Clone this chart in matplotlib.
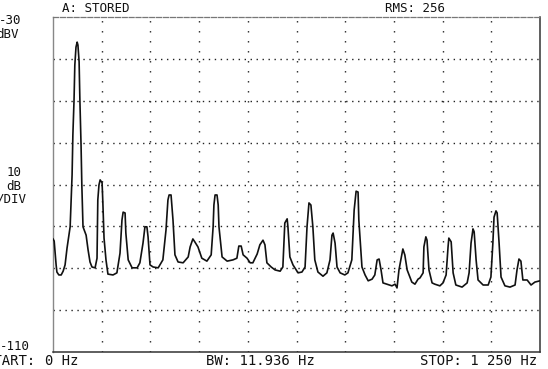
import numpy as np
import matplotlib
matplotlib.use("Agg")
import matplotlib.pyplot as plt

# stored spectrum trace, frequency in Hz and level in dBV
freq_hz = [0, 3, 8, 10, 15, 21, 26, 31, 36, 39,
           44, 46, 49, 51, 54, 56, 59, 62, 64, 67,
           69, 72, 74, 77, 85, 90, 95, 100, 108, 113,
           115, 118, 121, 126, 128, 131, 136, 141, 154, 164,
           172, 177, 180, 185, 187, 193, 203, 216, 223, 231,
           236, 241, 244, 249, 257, 270, 282, 290, 295, 298,
           303, 305, 308, 313, 321, 334, 347, 352, 359, 364,
           372, 382, 395, 406, 411, 413, 416, 421, 424, 426,
           434, 447, 462, 472, 477, 483, 488, 498, 506, 513,
           524, 531, 539, 544, 549, 560, 570, 583, 590, 595,
           601, 603, 608, 616, 629, 639, 647, 652, 657, 662,
           667, 672, 680, 693, 703, 711, 716, 719, 724, 729,
           737, 749, 757, 767, 773, 778, 783, 785, 793, 801,
           809, 819, 826, 832, 837, 842, 847, 857, 870, 878,
           883, 888, 896, 898, 903, 909, 921, 929, 937, 942,
           950, 952, 957, 960, 965, 973, 980, 993, 1001, 1009,
           1014, 1016, 1022, 1027, 1034, 1050, 1063, 1068, 1073, 1078,
           1081, 1086, 1091, 1104, 1117, 1124, 1129, 1132, 1137, 1140,
           1145, 1150, 1160, 1173, 1186, 1191, 1196, 1201, 1206, 1217,
           1227, 1237, 1250]
level_dbv = [-83.0, -83.5, -89.2, -90.9, -91.6, -91.6, -90.7, -89.2, -85.2, -83.3,
             -80.1, -74.9, -67.7, -58.2, -49.8, -41.5, -37.2, -36.0, -36.7, -40.7,
             -49.8, -60.6, -70.1, -80.1, -82.1, -85.6, -88.5, -89.7, -89.9, -87.6,
             -73.7, -70.1, -68.9, -69.6, -74.4, -82.8, -88.0, -91.4, -91.6, -91.1,
             -86.4, -78.5, -76.6, -76.8, -81.6, -88.0, -89.9, -89.9, -88.7, -84.0,
             -80.1, -80.1, -82.5, -89.2, -89.7, -89.9, -88.0, -80.9, -73.7, -72.5,
             -72.5, -74.9, -78.5, -86.8, -88.5, -88.7, -87.3, -84.9, -83.0, -83.7,
             -84.9, -87.6, -88.3, -86.8, -80.1, -74.9, -72.5, -72.5, -74.9, -80.1,
             -87.3, -88.3, -88.0, -87.6, -84.7, -84.7, -86.8, -87.6, -88.7, -88.7,
             -86.6, -84.4, -83.3, -84.4, -88.7, -89.7, -90.4, -90.7, -89.7, -79.2,
             -78.2, -80.1, -87.3, -89.2, -91.1, -90.9, -89.7, -80.1, -74.4, -74.9,
             -80.1, -88.0, -90.9, -91.9, -91.1, -88.0, -82.1, -81.6, -84.0, -89.7,
             -91.1, -91.6, -91.1, -88.0, -76.1, -71.6, -71.8, -78.5, -89.7, -91.6,
             -93.0, -92.6, -91.6, -88.0, -87.8, -90.4, -93.5, -93.8, -94.2, -93.8,
             -94.7, -90.4, -86.4, -85.4, -86.8, -90.4, -93.3, -93.8, -92.6, -92.3,
             -91.1, -84.9, -82.5, -83.3, -90.4, -93.5, -93.8, -94.2, -93.5, -91.6,
             -84.9, -82.8, -83.7, -91.1, -94.0, -94.5, -93.5, -91.1, -84.0, -80.6,
             -81.3, -88.0, -92.8, -94.0, -94.0, -92.1, -84.0, -77.8, -76.3, -76.8,
             -84.0, -92.1, -94.2, -94.5, -94.0, -90.4, -87.8, -88.3, -92.8, -92.8,
             -94.0, -93.3, -93.0]

start_hz = 0
stop_hz = 1250
ref_dbv = -30
bottom_dbv = -110
db_per_div = 10

fig = plt.figure(figsize=(5.48, 3.69), dpi=100)
ax = fig.add_axes([53 / 548, 17 / 369, 487 / 548, 335 / 369])

ax.set_xlim(start_hz, stop_hz)
ax.set_ylim(bottom_dbv, ref_dbv)
ax.set_xticks([])
ax.set_yticks([])

# dotted graticule, 10 x 8 divisions
for f in np.linspace(start_hz, stop_hz, 11)[1:-1]:
    ax.axvline(f, color="#222222", lw=1.0, ls=(0, (1, 6.2)), zorder=1)
for lev in np.arange(bottom_dbv + db_per_div, ref_dbv, db_per_div):
    ax.axhline(lev, color="#222222", lw=1.0, ls=(0, (1, 3.3)), zorder=1)

ax.plot(freq_hz, level_dbv, color="#111111", lw=1.2, zorder=3)

for side in ["right", "bottom"]:
    ax.spines[side].set_color("#333333")
    ax.spines[side].set_linewidth(1.1)
ax.spines["left"].set_color("#888888")
ax.spines["left"].set_linewidth(1.0)
ax.spines["top"].set_color("#777777")
ax.spines["top"].set_linewidth(0.9)
ax.spines["top"].set_linestyle((0, (4, 1.5)))

W, H = 548, 369

def put(x, y, s, ha="left", fs=9):
    return fig.text(x / W, 1 - y / H, s, ha=ha, va="center", fontsize=fs,
                    color="#111111", family="DejaVu Sans Mono")

put(62, 9, "A: STORED")
put(385, 9, "RMS: 256")

# reference level / scale labels, the left column runs off the page edge
put(10, 20, "-30", ha="center")
put(-4, 35, "dBV")
put(14, 173, "10", ha="center")
put(14, 186, "dB", ha="center")
put(-4, 199, "/DIV")
put(0, 346, "-110")

# start / bandwidth / stop annotation under the graticule
put(-15, 361, "START:", fs=10)
put(45, 361, "0 Hz", fs=10)
put(206, 361, "BW: 11.936 Hz", fs=10)
put(420, 361, "STOP: 1 250 Hz", fs=10)

fig.savefig("out.png", dpi=100, facecolor="white")
